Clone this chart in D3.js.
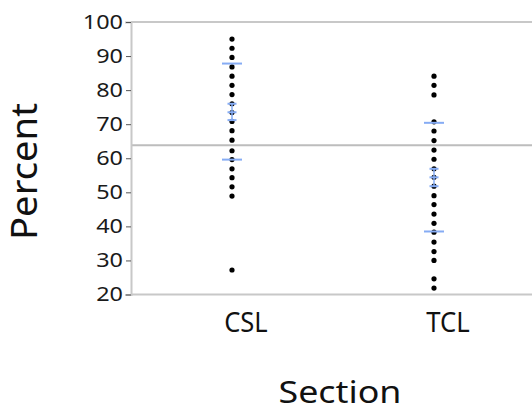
<!DOCTYPE html>
<html>
<head>
<meta charset="utf-8">
<script src="https://cdn.jsdelivr.net/npm/d3@7"></script>
<style>
  body { margin: 0; background: #fff; }
  svg { display: block; }
  text { font-family: 'Noto Sans', 'Open Sans', sans-serif; fill: #111; }
</style>
</head>
<body>
<svg></svg>
<script>
// data
var sections = ['CSL', 'TCL'];

var cslValues = [95.0, 92.3, 89.6, 86.8, 84.1, 81.4, 78.7, 76.0, 73.4, 70.8, 68.1,
                 65.3, 62.2, 59.6, 56.9, 54.3, 51.6, 48.9, 27.2];
var tclValues = [84.1, 81.4, 78.6, 70.7, 68.0, 65.2, 62.4, 59.7, 56.9, 54.4, 51.8,
                 49.0, 46.4, 43.6, 40.9, 38.3, 35.4, 32.6, 30.0, 24.6, 21.9];

// mean, +/- std error, +/- std dev per section
var means  = [73.5, 54.4];
var seLow  = [71.2, 51.8];
var seHigh = [76.0, 56.9];
var sdLow  = [59.6, 38.5];
var sdHigh = [87.8, 70.4];

var grandMean = 63.8;
var yTicks = [20, 30, 40, 50, 60, 70, 80, 90, 100];

var width = 532;
var height = 412;
var plotLeft = 131, plotTop = 22, plotBottom = 294.5, plotRight = 535;

var svg = d3.select('svg')
    .attr('width', width)
    .attr('height', height);

var xScale = d3.scalePoint()
    .domain(sections)
    .range([plotLeft, plotRight])
    .padding(0.5);

var yScale = d3.scaleLinear()
    .domain([20, 100])
    .range([plotBottom, plotTop]);

// frame
svg.append('line')
    .attr('x1', plotLeft).attr('x2', width)
    .attr('y1', yScale(100)).attr('y2', yScale(100))
    .attr('stroke', '#c8c8c8').attr('stroke-width', 2);

svg.append('line')
    .attr('x1', plotLeft).attr('x2', width)
    .attr('y1', yScale(20)).attr('y2', yScale(20))
    .attr('stroke', '#c8c8c8').attr('stroke-width', 2);

// grand mean
svg.append('line')
    .attr('x1', plotLeft).attr('x2', width)
    .attr('y1', yScale(grandMean)).attr('y2', yScale(grandMean))
    .attr('stroke', '#bdbdbd').attr('stroke-width', 2);

// y axis
var yAxis = d3.axisLeft(yScale)
    .tickValues(yTicks)
    .tickSize(6)
    .tickPadding(2);

var gy = svg.append('g')
    .attr('transform', 'translate(' + plotLeft + ',0)')
    .call(yAxis);

gy.select('.domain').attr('stroke', '#c8c8c8').attr('stroke-width', 2);
gy.selectAll('.tick line').attr('stroke', '#555').attr('x2', -5);
gy.selectAll('.tick text')
    .style('font-size', '20px')
    .style('fill', '#1a1a1a')
    .attr('textLength', function(d) { return String(d).length * 13.4; })
    .attr('lengthAdjust', 'spacingAndGlyphs');

// points
var points = [];
cslValues.forEach(function(v) { points.push({ s: 'CSL', v: v }); });
tclValues.forEach(function(v) { points.push({ s: 'TCL', v: v }); });

svg.selectAll('circle.dot')
    .data(points)
    .enter()
    .append('circle')
    .attr('class', 'dot')
    .attr('cx', function(d) { return xScale(d.s); })
    .attr('cy', function(d) { return yScale(d.v); })
    .attr('r', 2.6)
    .attr('fill', '#000');

// summary lines
var blue = '#86acf4';
var summary = sections.map(function(s, i) {
    return { s: s, mean: means[i], seLo: seLow[i], seHi: seHigh[i], sdLo: sdLow[i], sdHi: sdHigh[i] };
});

var sg = svg.selectAll('g.summary')
    .data(summary)
    .enter()
    .append('g')
    .attr('class', 'summary');

sg.append('line')
    .attr('x1', function(d) { return xScale(d.s); })
    .attr('x2', function(d) { return xScale(d.s); })
    .attr('y1', function(d) { return yScale(d.seHi); })
    .attr('y2', function(d) { return yScale(d.seLo); })
    .attr('stroke', blue).attr('stroke-width', 1.5);

['sdLo', 'sdHi'].forEach(function(k) {
    sg.append('line')
        .attr('x1', function(d) { return xScale(d.s) - 10; })
        .attr('x2', function(d) { return xScale(d.s) + 10; })
        .attr('y1', function(d) { return yScale(d[k]); })
        .attr('y2', function(d) { return yScale(d[k]); })
        .attr('stroke', blue).attr('stroke-width', 2);
});

['seLo', 'mean', 'seHi'].forEach(function(k) {
    sg.append('line')
        .attr('x1', function(d) { return xScale(d.s) - 4.5; })
        .attr('x2', function(d) { return xScale(d.s) + 4.5; })
        .attr('y1', function(d) { return yScale(d[k]); })
        .attr('y2', function(d) { return yScale(d[k]); })
        .attr('stroke', blue).attr('stroke-width', 2);
});

// category labels
svg.selectAll('text.cat')
    .data(sections)
    .enter()
    .append('text')
    .attr('class', 'cat')
    .attr('x', function(d) { return xScale(d) + 14; })
    .attr('y', 331.5)
    .attr('text-anchor', 'middle')
    .style('font-size', '28px')
    .attr('textLength', 43.5)
    .attr('lengthAdjust', 'spacingAndGlyphs')
    .text(function(d) { return d; });

// axis titles
svg.append('text')
    .attr('x', 340)
    .attr('y', 403)
    .attr('text-anchor', 'middle')
    .style('font-size', '31px')
    .attr('textLength', 123)
    .attr('lengthAdjust', 'spacingAndGlyphs')
    .text('Section');

svg.append('text')
    .attr('transform', 'translate(37,171.5) rotate(-90)')
    .attr('text-anchor', 'middle')
    .style('font-size', '36px')
    .attr('textLength', 137)
    .attr('lengthAdjust', 'spacingAndGlyphs')
    .text('Percent');
</script>
</body>
</html>
